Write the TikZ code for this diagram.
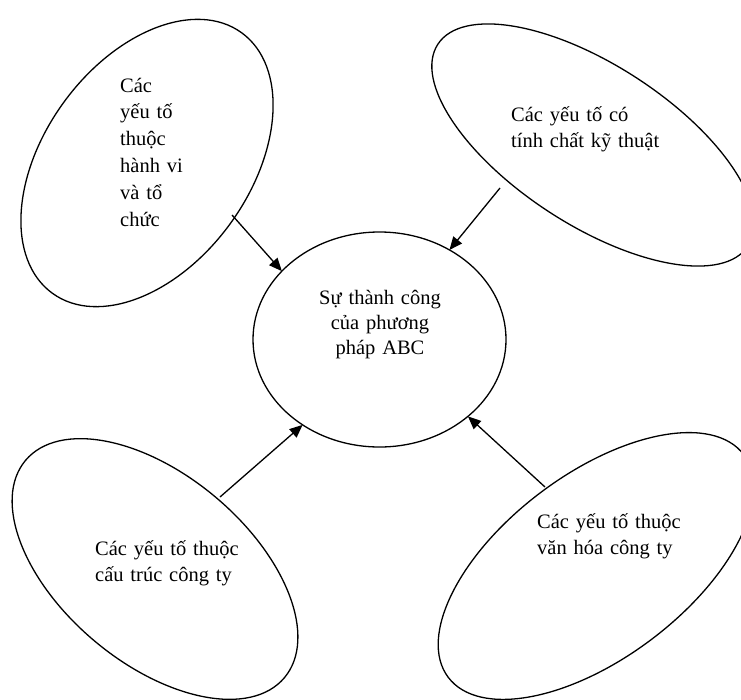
\documentclass[tikz,border=0pt]{standalone}
\usepackage{fontspec}
\setmainfont{Liberation Serif}
\usetikzlibrary{shapes.geometric,arrows.meta}
\begin{document}
\begin{tikzpicture}[x=1pt,y=-1pt,
  bubble/.style={draw, ellipse, line width=1.3pt, inner sep=0pt, outer sep=0pt},
  lbl/.style={anchor=base west, inner sep=0pt, align=left, text width=220pt,
    font=\fontsize{20.5}{26.8}\selectfont},
  clbl/.style={anchor=base, inner sep=0pt, align=center, text width=200pt,
    font=\fontsize{20.5}{25}\selectfont},
  arr/.style={line width=1.3pt, -{Triangle[length=13pt,width=11pt]}}]
\useasboundingbox (0,0) rectangle (741,699);
\clip (0,0) rectangle (741,699);
% outer ellipses
\node[bubble, minimum width=322pt, minimum height=206pt, rotate=54] (tl) at (147,163) {};
\node[bubble, minimum width=370pt, minimum height=160pt, rotate=-33] (tr) at (593,145) {};
\node[bubble, minimum width=338pt, minimum height=188pt, rotate=-40] (bl) at (155,569) {};
\node[bubble, minimum width=370pt, minimum height=184pt, rotate=37] (br) at (596,566) {};
% centre
\node[bubble, minimum width=253pt, minimum height=215pt] (c) at (379.5,339.5) {};
% texts
\node[lbl] (tltext) at (120,92) {Các\\yếu tố\\thuộc\\hành vi\\và tổ\\chức};
\node[lbl] (trtext) at (511,121) {Các yếu tố có\\tính chất kỹ thuật};
\node[lbl] (bltext) at (95,555) {Các yếu tố thuộc\\cấu trúc công ty};
\node[lbl] (brtext) at (537,528) {Các yếu tố thuộc\\văn hóa công ty};
\node[clbl] (ctext) at (380,304) {Sự thành công\\của phương\\pháp ABC};
% arrow tails on the outer ellipses
\coordinate (tla) at (232,215);
\coordinate (tra) at (500,188);
\coordinate (bla) at (220,497);
\coordinate (bra) at (545,487);
\draw[arr] (tla) -- (c.145);
\draw[arr] (tra) -- (c.52);
\draw[arr] (bla) -- (c.228);
\draw[arr] (bra) -- (c.319);
\end{tikzpicture}
\end{document}
